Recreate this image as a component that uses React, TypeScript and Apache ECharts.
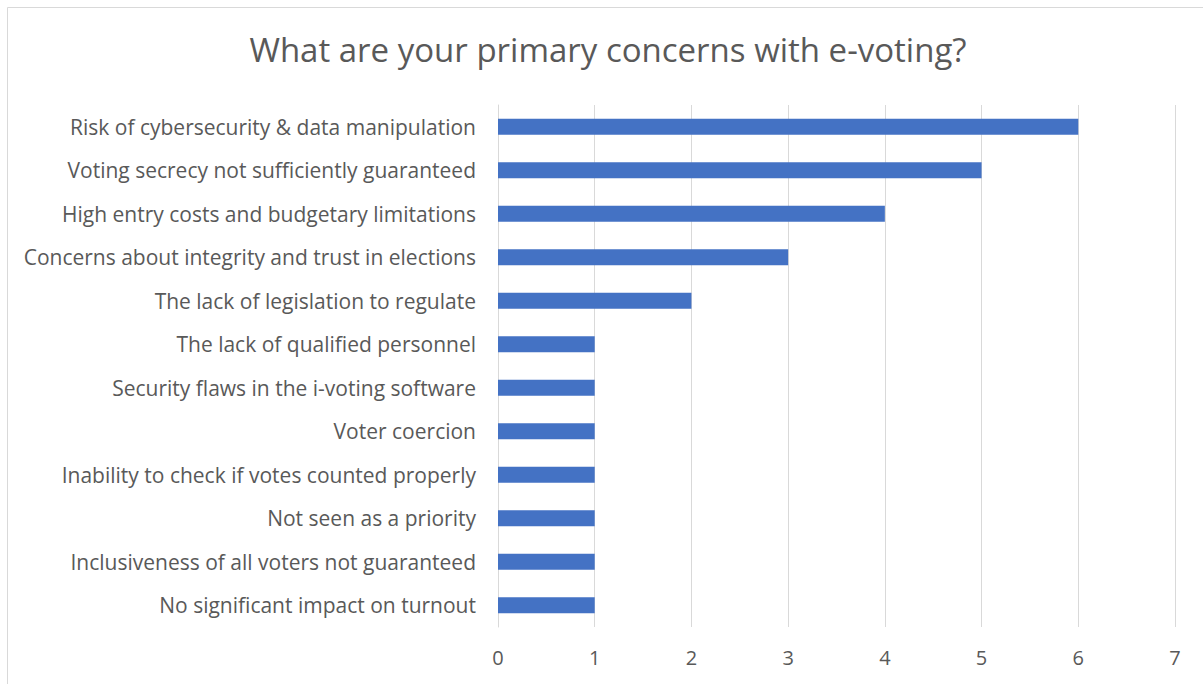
import React, { useEffect, useRef } from "react";
import * as echarts from "echarts";

const categories = [
  "Risk of cybersecurity & data manipulation",
  "Voting secrecy not sufficiently guaranteed",
  "High entry costs and budgetary limitations",
  "Concerns about integrity and trust in elections",
  "The lack of legislation to regulate",
  "The lack of qualified personnel",
  "Security flaws in the i-voting software",
  "Voter coercion",
  "Inability to check if votes counted properly",
  "Not seen as a priority",
  "Inclusiveness of all voters not guaranteed",
  "No significant impact on turnout",
];
const values = [6, 5, 4, 3, 2, 1, 1, 1, 1, 1, 1, 1];
const titleText = "What are your primary concerns with e-voting?";

export default function App() {
  const ref = useRef<HTMLDivElement>(null);
  useEffect(() => {
    if (!ref.current) return;
    const chart = echarts.init(ref.current, null, { renderer: "svg" });
    const font = "'Open Sans', 'Noto Sans', sans-serif";
    chart.setOption({
      animation: false,
      backgroundColor: "#ffffff",
      title: {
        text: titleText,
        left: 603,
        textAlign: "center",
        top: 28,
        textStyle: { fontFamily: font, fontSize: 33, fontWeight: "normal", color: "#595959" },
      },
      graphic: [
        {
          type: "rect",
          shape: { x: 7.5, y: 7.5, width: 1210, height: 700 },
          style: { fill: "none", stroke: "#d9d9d9", lineWidth: 1 },
          silent: true,
        },
      ],
      grid: { left: 498, right: 28, top: 105, bottom: 57, containLabel: false },
      xAxis: {
        type: "value",
        min: 0,
        max: 7,
        interval: 1,
        axisLine: { show: false },
        axisTick: { show: false },
        splitLine: { show: true, lineStyle: { color: "#d9d9d9", width: 1 } },
        axisLabel: { fontFamily: font, fontSize: 20, color: "#595959", margin: 20 },
      },
      yAxis: {
        type: "category",
        data: categories,
        inverse: true,
        axisLine: { show: true, lineStyle: { color: "#d9d9d9", width: 1 } },
        axisTick: { show: false },
        axisLabel: { fontFamily: font, fontSize: 21, color: "#595959", margin: 22 },
      },
      series: [
        {
          type: "bar",
          data: values,
          barWidth: "37%",
          itemStyle: { color: "#4472C4" },
        },
      ],
    });
    return () => chart.dispose();
  }, []);
  return (
    <div
      ref={ref}
      style={{ position: "fixed", left: 0, top: 0, width: 1203, height: 684 }}
    />
  );
}
